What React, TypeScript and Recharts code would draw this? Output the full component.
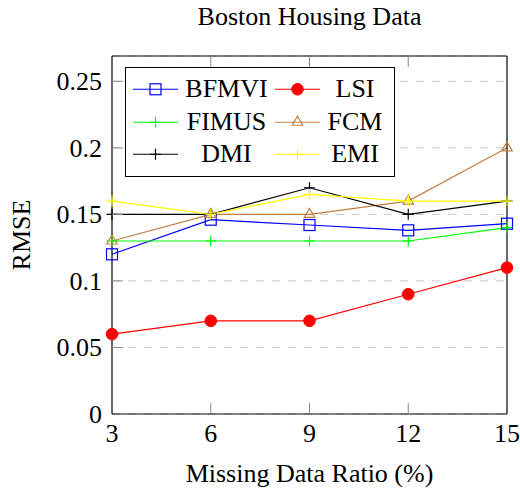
import { CartesianGrid, Label, Legend, Line, LineChart, XAxis, YAxis } from "recharts";

const FONT = "'Liberation Serif', 'Times New Roman', serif";
const TICK_GRAY = "#8a8a8a";

const ratios = [3, 6, 9, 12, 15];
const bfmvi = [0.12, 0.146, 0.142, 0.138, 0.143];
const lsi = [0.06, 0.07, 0.07, 0.09, 0.11];
const fimus = [0.13, 0.13, 0.13, 0.13, 0.14];
const fcm = [0.13, 0.15, 0.15, 0.16, 0.2];
const dmi = [0.15, 0.15, 0.17, 0.15, 0.16];
const emi = [0.16, 0.15, 0.165, 0.16, 0.16];

const yTicks = [0, 0.05, 0.1, 0.15, 0.2, 0.25];
const yMax = 0.269;

type MarkKind = "square" | "circle" | "plus" | "triangle";

const series: { name: string; values: number[]; color: string; mark: MarkKind }[] = [
  { name: "BFMVI", values: bfmvi, color: "#0000ff", mark: "square" },
  { name: "LSI", values: lsi, color: "#ff0000", mark: "circle" },
  { name: "FIMUS", values: fimus, color: "#00ff00", mark: "plus" },
  { name: "FCM", values: fcm, color: "#bf8040", mark: "triangle" },
  { name: "DMI", values: dmi, color: "#000000", mark: "plus" },
  { name: "EMI", values: emi, color: "#ffff00", mark: "plus" },
];

const data = ratios.map((r, i) => {
  const row: Record<string, number> = { ratio: r };
  series.forEach((s) => (row[s.name] = s.values[i]));
  return row;
});

function Marker({ cx, cy, color, mark }: { cx: number; cy: number; color: string; mark: MarkKind }) {
  if (mark === "square")
    return <rect x={cx - 5.5} y={cy - 5.5} width={11} height={11} fill="none" stroke={color} strokeWidth={1.2} />;
  if (mark === "circle") return <circle cx={cx} cy={cy} r={5.8} fill={color} stroke={color} />;
  if (mark === "triangle")
    return (
      <path
        d={`M${cx},${cy - 6}L${cx + 5.3},${cy + 3}L${cx - 5.3},${cy + 3}Z`}
        fill="none"
        stroke={color}
        strokeWidth={1.2}
      />
    );
  return (
    <path
      d={`M${cx - 5.5},${cy}H${cx + 5.5}M${cx},${cy - 5.5}V${cy + 5.5}`}
      stroke={color}
      strokeWidth={1.2}
      fill="none"
    />
  );
}

const BottomTick = ({ x, y, payload }: any) => (
  <g>
    {payload.value !== 3 && payload.value !== 15 && (
      <line x1={x} x2={x} y1={y} y2={y - 11} stroke={TICK_GRAY} />
    )}
    <text x={x} y={y + 28} textAnchor="middle" fontFamily={FONT} fontSize={26} fill="#000">
      {payload.value}
    </text>
  </g>
);

const TopTick = ({ x, y, payload }: any) =>
  payload.value !== 3 && payload.value !== 15 ? (
    <line x1={x} x2={x} y1={y} y2={y + 11} stroke={TICK_GRAY} />
  ) : (
    <g />
  );

const LeftTick = ({ x, y, payload }: any) => (
  <g>
    {payload.value !== 0 && <line x1={x} x2={x + 11} y1={y} y2={y} stroke={TICK_GRAY} />}
    <text x={x - 10} y={y} dy={9} textAnchor="end" fontFamily={FONT} fontSize={26} fill="#000">
      {payload.value}
    </text>
  </g>
);

const RightTick = ({ x, y, payload }: any) =>
  payload.value !== 0 ? <line x1={x} x2={x - 11} y1={y} y2={y} stroke={TICK_GRAY} /> : <g />;

function LegendBox() {
  return (
    <div
      style={{
        border: "1px solid #000",
        background: "#fff",
        display: "grid",
        gridTemplateColumns: "149px 119px",
        padding: "5px 0",
        fontFamily: FONT,
        fontSize: 26,
        lineHeight: "32.5px",
        color: "#000",
      }}
    >
      {series.map((s, i) => (
        <div key={s.name} style={{ display: "flex", alignItems: "center", paddingLeft: i % 2 === 0 ? 7 : 0 }}>
          <svg width={45} height={32.5} style={{ display: "block" }}>
            <line x1={0} x2={45} y1={16.25} y2={16.25} stroke={s.color} strokeWidth={1.2} />
            <Marker cx={22.5} cy={16.25} color={s.color} mark={s.mark} />
          </svg>
          <span style={{ width: i % 2 === 0 ? 97 : 70, textAlign: "center", fontFamily: FONT }}>{s.name}</span>
        </div>
      ))}
    </div>
  );
}

export default function App() {
  return (
    <div style={{ position: "absolute", left: 0, top: 0, width: 520, height: 491 }}>
      <LineChart width={520} height={491} data={data} margin={{ top: 55, right: 12, bottom: 0, left: 0 }}>
        <CartesianGrid vertical={false} stroke="#c8c8c8" strokeDasharray="8 8" />
        <XAxis
          dataKey="ratio"
          type="number"
          domain={[3, 15]}
          ticks={ratios}
          interval={0}
          height={77}
          tickSize={0}
          tickMargin={0}
          tickLine={false}
          axisLine={{ stroke: "#000", strokeWidth: 1.2 }}
          tick={BottomTick}
        >
          <Label
            content={({ viewBox }: any) => (
              <text
                x={viewBox.x + viewBox.width / 2}
                y={482}
                textAnchor="middle"
                fontFamily={FONT}
                fontSize={26}
                fill="#000"
              >
                Missing Data Ratio (%)
              </text>
            )}
          />
        </XAxis>
        <XAxis
          xAxisId="top"
          orientation="top"
          dataKey="ratio"
          type="number"
          domain={[3, 15]}
          ticks={ratios}
          interval={0}
          height={1}
          tickSize={0}
          tickMargin={0}
          tickLine={false}
          axisLine={{ stroke: "#000", strokeWidth: 1.2 }}
          tick={TopTick}
        >
          <Label
            content={({ viewBox }: any) => (
              <text
                x={viewBox.x + viewBox.width / 2}
                y={25}
                textAnchor="middle"
                fontFamily={FONT}
                fontSize={26}
                fill="#000"
              >
                Boston Housing Data
              </text>
            )}
          />
        </XAxis>
        <YAxis
          type="number"
          domain={[0, yMax]}
          ticks={yTicks}
          interval={0}
          width={112}
          tickSize={0}
          tickMargin={0}
          tickLine={false}
          axisLine={{ stroke: "#000", strokeWidth: 1.2 }}
          tick={LeftTick}
        >
          <Label
            content={({ viewBox }: any) => {
              const cy = viewBox.y + viewBox.height / 2;
              return (
                <text
                  x={30}
                  y={cy}
                  transform={`rotate(-90 30 ${cy})`}
                  textAnchor="middle"
                  fontFamily={FONT}
                  fontSize={26}
                  fill="#000"
                >
                  RMSE
                </text>
              );
            }}
          />
        </YAxis>
        <YAxis
          yAxisId="right"
          orientation="right"
          type="number"
          domain={[0, yMax]}
          ticks={yTicks}
          interval={0}
          width={1}
          tickSize={0}
          tickMargin={0}
          tickLine={false}
          axisLine={{ stroke: "#000", strokeWidth: 1.2 }}
          tick={RightTick}
        />
        {series.map((s) => (
          <Line
            key={s.name}
            type="linear"
            dataKey={s.name}
            stroke={s.color}
            strokeWidth={1.2}
            isAnimationActive={false}
            dot={(p: any) => (
              <Marker key={`${s.name}-${p.index}`} cx={p.cx} cy={p.cy} color={s.color} mark={s.mark} />
            )}
            activeDot={false}
          />
        ))}
        <Legend
          layout="vertical"
          align="center"
          verticalAlign="middle"
          wrapperStyle={{ left: 125, top: 67, width: "auto", height: "auto" }}
          content={() => <LegendBox />}
        />
      </LineChart>
    </div>
  );
}
